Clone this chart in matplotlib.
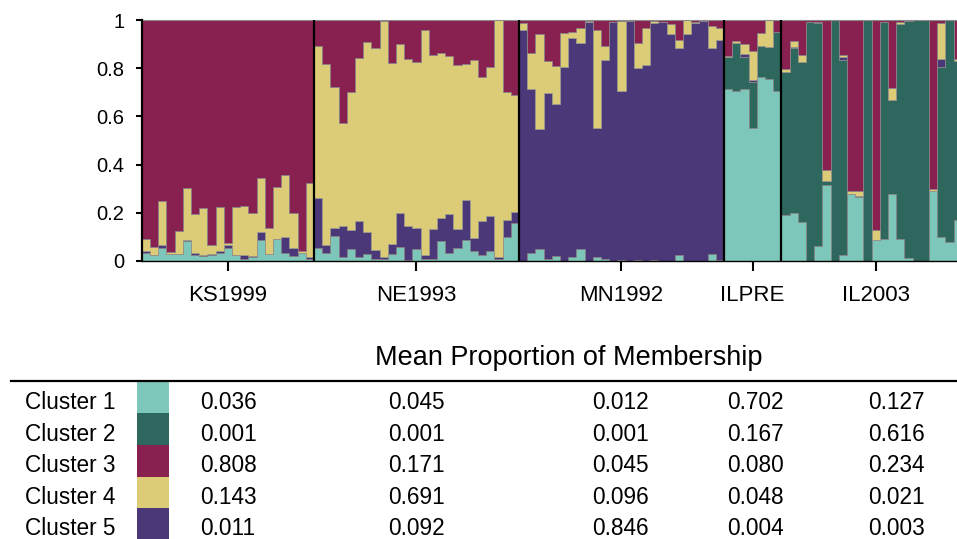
import matplotlib
matplotlib.use("Agg")
import numpy as np
import matplotlib.pyplot as plt
from matplotlib.patches import Rectangle
from matplotlib.lines import Line2D

plt.rcParams['font.family'] = ['Liberation Sans', 'DejaVu Sans']

populations = ['KS1999', 'NE1993', 'MN1992', 'ILPRE', 'IL2003']
cluster_names = ['Cluster 1', 'Cluster 2', 'Cluster 3', 'Cluster 4', 'Cluster 5']
cluster_colors = ['#7cc7b9', '#2e675e', '#88214f', '#dccb77', '#4a3878']

# individual membership proportions (per population, per cluster)
KS1999_C1 = [.033, .023, .052, .030, .030, .081, .026, .022, .026, .033, .055, .023, .008, .017, .087, .030, .093, .035, .019, .032, .010]
KS1999_C2 = [0] * 21
KS1999_C3 = [.908, .940, .752, .964, .876, .698, .807, .779, .932, .778, .924, .775, .771, .799, .657, .865, .692, .645, .799, .960, .675]
KS1999_C4 = [.052, .037, .182, .006, .094, .215, .159, .196, .039, .181, .011, .202, .206, .181, .224, .105, .215, .256, .146, .005, .307]
KS1999_C5 = [.007, 0, .014, 0, 0, .006, .008, .003, .003, .008, .010, 0, .015, .003, .032, 0, 0, .064, .036, .003, .008]

NE1993_C1 = [.052, .032, .102, .017, .050, .015, .030, .010, .010, .030, .057, .003, .051, .008, .010, .081, .035, .055, .087, .040, .026, .041, .010, .099, .159]
NE1993_C2 = [0] * 25
NE1993_C3 = [.106, .182, .279, .426, .297, .157, .093, .115, .006, .179, .098, .160, .175, .043, .144, .136, .150, .185, .181, .166, .235, .193, .001, .299, .313]
NE1993_C4 = [.633, .750, .584, .430, .573, .675, .786, .840, .978, .751, .703, .696, .690, .934, .724, .684, .656, .681, .565, .740, .599, .622, .983, .532, .482]
NE1993_C5 = [.209, .036, .035, .127, .080, .153, .091, .035, .006, .040, .142, .141, .084, .015, .122, .099, .159, .079, .167, .054, .140, .144, .006, .070, .046]

MN1992_C1 = [0, .032, .050, .007, .022, 0, .017, .048, 0, .015, .007, 0, 0, 0, .004, 0, 0, 0, 0, .025, 0, 0, 0, .029, .006]
MN1992_C2 = [0, 0, 0, 0, 0, 0, 0, 0, 0, 0, 0, 0, .006, 0, 0, 0, .006, 0, 0, 0, 0, 0, 0, 0, 0]
MN1992_C3 = [.011, .136, .057, .171, .189, .054, .048, .033, .004, .040, .109, .008, .003, .004, .096, .035, .006, .007, .015, .081, .001, .007, .003, .023, .034]
MN1992_C4 = [.029, .151, .394, .133, .160, .142, .028, .064, .004, .409, .057, 0, .291, 0, .102, .153, .007, 0, .044, .035, .058, .004, 0, .094, .050]
MN1992_C5 = [.960, .681, .499, .689, .629, .804, .907, .855, .992, .536, .827, .992, .700, .996, .798, .812, .981, .993, .941, .859, .941, .989, .997, .854, .910]

ILPRE_C1 = [.713, .704, .714, .552, .764, .756, .706]
ILPRE_C2 = [.134, .202, .134, .189, .127, .133, .243]
ILPRE_C3 = [.149, .086, .101, .130, .052, .002, .051]
ILPRE_C4 = [.004, .008, .040, .119, .057, .109, 0]
ILPRE_C5 = [0, 0, .011, .010, 0, 0, 0]

IL2003_C1 = [.189, .198, .160, 0, .064, .315, 0, .026, .280, .265, 0, .086, .091, .279, .090, .012, 0, 0, .290, .098, .077, .171, .030]
IL2003_C2 = [.594, .686, .664, .993, .924, .017, 1.0, .808, 0, .004, 1.0, 0, .899, .390, .894, .983, 1.0, 1.0, 0, .707, .923, .660, .270]
IL2003_C3 = [.205, .089, .147, .007, .008, .622, 0, .144, .708, .708, 0, .870, .010, .281, .008, .005, 0, 0, .703, .011, 0, .162, .690]
IL2003_C4 = [.012, .021, .029, 0, 0, .046, 0, .008, .012, .023, 0, .044, 0, .050, .008, 0, 0, 0, .007, .151, 0, .007, .010]
IL2003_C5 = [0, .006, 0, 0, .004, 0, 0, .014, 0, 0, 0, 0, 0, 0, 0, 0, 0, 0, 0, .033, 0, 0, 0]

# mean proportion of membership table (rows: clusters, cols: populations)
mean_C1 = ['0.036', '0.045', '0.012', '0.702', '0.127']
mean_C2 = ['0.001', '0.001', '0.001', '0.167', '0.616']
mean_C3 = ['0.808', '0.171', '0.045', '0.080', '0.234']
mean_C4 = ['0.143', '0.691', '0.096', '0.048', '0.021']
mean_C5 = ['0.011', '0.092', '0.846', '0.004', '0.003']

pop_data = {
    'KS1999': [KS1999_C1, KS1999_C2, KS1999_C3, KS1999_C4, KS1999_C5],
    'NE1993': [NE1993_C1, NE1993_C2, NE1993_C3, NE1993_C4, NE1993_C5],
    'MN1992': [MN1992_C1, MN1992_C2, MN1992_C3, MN1992_C4, MN1992_C5],
    'ILPRE': [ILPRE_C1, ILPRE_C2, ILPRE_C3, ILPRE_C4, ILPRE_C5],
    'IL2003': [IL2003_C1, IL2003_C2, IL2003_C3, IL2003_C4, IL2003_C5],
}
table_rows = [mean_C1, mean_C2, mean_C3, mean_C4, mean_C5]

# combine individuals
clusters = [np.concatenate([np.array(pop_data[p][k], float) for p in populations]) for k in range(5)]
counts = [len(pop_data[p][0]) for p in populations]
n = sum(counts)
edges = np.arange(n + 1)
stack_order = [0, 1, 4, 3, 2]  # bottom to top: C1, C2, C5, C4, C3

W, H = 957, 539
fig = plt.figure(figsize=(W / 100, H / 100), dpi=100)
ax = fig.add_axes([141.7 / W, (H - 261) / H, n * 8.2 / W, 241 / H])

bottom = np.zeros(n)
for k in stack_order:
    top = bottom + clusters[k]
    ax.fill_between(edges, np.append(bottom, bottom[-1]), np.append(top, top[-1]),
                    step='post', facecolor=cluster_colors[k], edgecolor='#8c8c8c',
                    linewidth=0.5)
    bottom = top

bounds = np.cumsum(counts)
for b in bounds[:-1]:
    ax.axvline(b, color='black', linewidth=1.6, zorder=5)

centers = bounds - np.array(counts) / 2
ax.set_xlim(0, n)
ax.set_ylim(0, 1)
ax.set_xticks(centers)
ax.set_xticklabels(populations)
ax.set_yticks([0, 0.2, 0.4, 0.6, 0.8, 1.0])
ax.set_yticklabels(['0', '0.2', '0.4', '0.6', '0.8', '1'])
ax.tick_params(axis='x', length=7.5, width=1.5, pad=10, labelsize=16, color='black')
ax.tick_params(axis='y', length=4.5, width=1.5, pad=8, labelsize=14.5, color='black')
for s in ['right']:
    ax.spines[s].set_visible(False)
ax.spines['top'].set_color('#8c8c8c')
ax.spines['top'].set_linewidth(0.8)
ax.spines['left'].set_linewidth(1.6)
ax.spines['bottom'].set_linewidth(1.0)
ax.spines['left'].set_zorder(6)

# table
def fy(p):
    return (H - p) / H

fig.text(568.7 / W, fy(365), 'Mean Proportion of Membership', ha='center', va='baseline', fontsize=19.5)
fig.add_artist(Line2D([11 / W, 1.0], [fy(380.7), fy(380.7)], color='black', linewidth=1.6))

row_h = 31.6
row_top0 = 381.7
col_x = [200, 388, 592, 727, 868]
for i, name in enumerate(cluster_names):
    top = row_top0 + i * row_h
    base = top + 27.3
    fig.text(25 / W, fy(base), name, ha='left', va='baseline', fontsize=16.3)
    fig.add_artist(Rectangle((137 / W, fy(top + row_h)), 32 / W, row_h / H,
                             facecolor=cluster_colors[i], edgecolor='none', transform=fig.transFigure))
    for j, val in enumerate(table_rows[i]):
        fig.text(col_x[j] / W, fy(base), val, ha='left', va='baseline', fontsize=16.3)

fig.savefig('out.png', dpi=100)
